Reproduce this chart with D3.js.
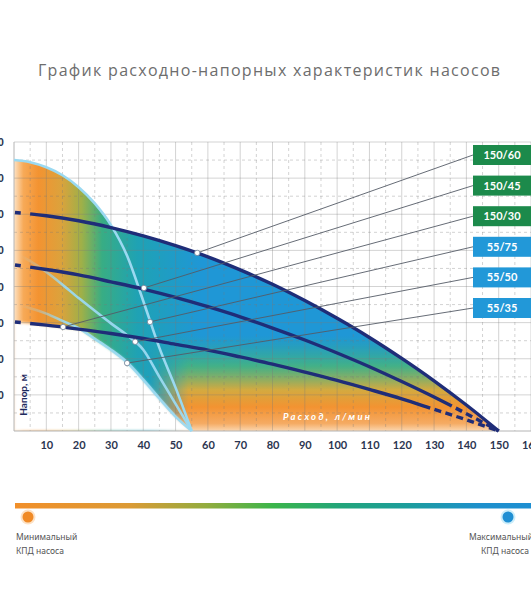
<!DOCTYPE html>
<html>
<head>
<meta charset="utf-8">
<script src="https://cdn.jsdelivr.net/npm/d3@7"></script>
<style>
  body { margin: 0; background: #fff; }
  svg { display: block; font-family: Lato, "Open Sans", sans-serif; }
</style>
</head>
<body>
<div class="canvas"></div>
<script>
// flow, l/min
const flow150 = [0, 10, 20, 30, 40, 50, 60, 70, 80, 90, 100, 110, 120, 130, 140, 150];
const flow55 = [0, 5, 10, 15, 20, 25, 30, 35, 40, 45, 50, 55];

// head, m
const head150_60 = [60.5, 59.6, 58.2, 56.3, 54.0, 51.3, 48.2, 44.6, 40.6, 36.1, 31.2, 25.9, 20.1, 13.9, 7.2, 0];
const head150_45 = [46.0, 44.7, 43.2, 41.3, 39.3, 37.0, 34.4, 31.6, 28.5, 25.2, 21.6, 17.8, 13.7, 9.4, 4.8, 0];
const head150_30 = [30.2, 29.3, 28.2, 27.0, 25.6, 24.0, 22.4, 20.5, 18.5, 16.3, 14.0, 11.5, 8.9, 6.0, 3.1, 0];
const head55_75 = [75, 74.4, 73, 70.8, 67.5, 63, 57, 48.5, 36, 23, 12, 0];
const head55_50 = [49.5, 47, 44, 40.5, 36.8, 33.3, 29.8, 26.5, 22.5, 15, 7.5, 0];
const head55_35 = [35, 34, 32.5, 30.5, 28.5, 25.5, 22.5, 19, 14.2, 9, 4, 0];

// pump labels and where their leader lines touch the curves
const pumpLabels = ["150/60", "150/45", "150/30", "55/75", "55/50", "55/35"];
const dotFlow = [56.7, 40.2, 15.2, 42.1, 37.5, 35];
const dotHead = [49.3, 39.6, 28.8, 30.2, 24.7, 18.8];

const xTicks = [10, 20, 30, 40, 50, 60, 70, 80, 90, 100, 110, 120, 130, 140, 150, 160];
const yTicks = [10, 20, 30, 40, 50, 60, 70, 80];

const w = 531;
const h = 600;

const svg = d3.select(".canvas").append("svg").attr("width", w).attr("height", h);
const defs = svg.append("defs");

const x = d3.scaleLinear().domain([0, 160]).range([14, 531]);
const y = d3.scaleLinear().domain([0, 80]).range([431, 142]);

// title
svg.append("text")
  .attr("x", 269).attr("y", 76)
  .attr("text-anchor", "middle")
  .attr("textLength", 462)
  .attr("lengthAdjust", "spacing")
  .style("font-family", "'Open Sans', sans-serif")
  .style("font-size", "16px")
  .style("fill", "#6d6d6d")
  .text("График расходно-напорных характеристик насосов");

// gradients for the efficiency fill
const addStops = (grad, stops) => {
  stops.forEach(([o, c, op]) => {
    grad.append("stop").attr("offset", o).attr("stop-color", c).attr("stop-opacity", op === undefined ? 1 : op);
  });
};

const gradX = defs.append("linearGradient").attr("id", "effX")
  .attr("gradientUnits", "userSpaceOnUse")
  .attr("x1", x(0)).attr("x2", x(58)).attr("y1", 0).attr("y2", 0);
addStops(gradX, [
  [0, "#fde2c4"], [0.05, "#f7aa58"], [0.13, "#f39331"], [0.25, "#dca23c"],
  [0.36, "#9fb048"], [0.47, "#38ad84"], [0.66, "#1fa2b4"], [1, "#1f97d6"]
]);

const gradY = defs.append("linearGradient").attr("id", "effY")
  .attr("gradientUnits", "userSpaceOnUse")
  .attr("x1", 0).attr("x2", 0).attr("y1", y(30)).attr("y2", y(0));
addStops(gradY, [
  [0, "#3cb58a", 0], [0.12, "#34ae8e", 0], [0.4, "#49b57a", 0.85], [0.62, "#d3aa40", 1],
  [0.78, "#f39331", 1], [0.93, "#f5ab63", 1], [1, "#fbd7b0", 1]
]);

const gradMask = defs.append("linearGradient").attr("id", "maskGrad")
  .attr("gradientUnits", "userSpaceOnUse")
  .attr("x1", x(42)).attr("x2", x(54)).attr("y1", 0).attr("y2", 0);
addStops(gradMask, [[0, "#000"], [1, "#fff"]]);

defs.append("mask").attr("id", "rightMask")
  .append("rect").attr("x", 0).attr("y", 0).attr("width", w).attr("height", h)
  .attr("fill", "url(#maskGrad)");

defs.append("filter").attr("id", "soft")
  .attr("x", "-10%").attr("y", "-10%").attr("width", "120%").attr("height", "120%")
  .append("feGaussianBlur").attr("stdDeviation", 1.6);

// light curves fade in from the left edge
const gradLine = defs.append("linearGradient").attr("id", "lightFade")
  .attr("gradientUnits", "userSpaceOnUse")
  .attr("x1", x(2)).attr("x2", x(16)).attr("y1", 0).attr("y2", 0);
addStops(gradLine, [[0, "#9ad9f1", 0], [1, "#9ad9f1", 0.95]]);

const areaUnder = (qs, hs) => d3.area()
  .x((d, i) => x(qs[i]))
  .y0(y(0))
  .y1((d) => y(d))
  .curve(d3.curveMonotoneX)(hs);

const line = d3.line()
  .x((d) => x(d[0]))
  .y((d) => y(d[1]))
  .curve(d3.curveMonotoneX);

// colored region: union of areas under the top curves
const fill = svg.append("g");
[[flow55, head55_75], [flow150, head150_60]].forEach(([qs, hs]) => {
  fill.append("path").attr("d", areaUnder(qs, hs)).attr("fill", "url(#effX)");
});
const over = fill.append("g").attr("mask", "url(#rightMask)");
[[flow55, head55_75], [flow150, head150_60]].forEach(([qs, hs]) => {
  over.append("path").attr("d", areaUnder(qs, hs)).attr("fill", "url(#effY)");
});

// white region below both lower curves
defs.append("clipPath").attr("id", "under30")
  .append("path").attr("d", areaUnder(flow150, head150_30));
svg.append("g").attr("filter", "url(#soft)")
  .append("path")
  .attr("d", areaUnder(flow55, head55_35))
  .attr("clip-path", "url(#under30)")
  .attr("fill", "#fff");

// grid
const grid = svg.append("g");
grid.selectAll("line.v").data(d3.range(5, 161, 5)).join("line")
  .attr("class", "v")
  .attr("x1", (d) => x(d)).attr("x2", (d) => x(d))
  .attr("y1", y(80)).attr("y2", y(0))
  .attr("stroke", "rgba(120,120,120,0.33)")
  .attr("stroke-dasharray", (d) => (d % 10 === 0 ? null : "3,3"));
grid.selectAll("line.h").data(d3.range(5, 81, 5)).join("line")
  .attr("class", "h")
  .attr("x1", x(0)).attr("x2", w)
  .attr("y1", (d) => y(d)).attr("y2", (d) => y(d))
  .attr("stroke", "rgba(120,120,120,0.33)")
  .attr("stroke-dasharray", (d) => (d % 10 === 0 ? null : "3,3"));

svg.append("line").attr("x1", x(0)).attr("x2", x(0)).attr("y1", y(80)).attr("y2", y(0))
  .attr("stroke", "#b4b4b4");
svg.append("line").attr("x1", x(0)).attr("x2", w).attr("y1", y(0)).attr("y2", y(0))
  .attr("stroke", "#b4b4b4");

// axes labels
const xAxis = svg.append("g")
  .attr("transform", `translate(0, ${y(0)})`)
  .call(d3.axisBottom(x).tickValues(xTicks).tickSize(0).tickPadding(10));
xAxis.select(".domain").remove();
xAxis.selectAll("text")
  .style("font-size", "11px").style("font-weight", "700").style("fill", "#2b3550")
  .style("font-family", "Lato, sans-serif");

const yAxis = svg.append("g")
  .attr("transform", "translate(4, 0)")
  .call(d3.axisLeft(y).tickValues(yTicks).tickSize(0).tickPadding(0));
yAxis.select(".domain").remove();
yAxis.selectAll("text")
  .style("font-size", "11px").style("font-weight", "700").style("fill", "#2b3550");

svg.append("text")
  .attr("transform", `translate(27, ${y(10)}) rotate(-90)`)
  .attr("text-anchor", "middle")
  .style("font-size", "10px").style("font-weight", "700").style("fill", "#1e2a5e")
  .text("Напор, м");

svg.append("text")
  .attr("x", 283).attr("y", 420)
  .attr("textLength", 87)
  .style("font-size", "9.5px").style("font-weight", "700").style("font-style", "italic")
  .style("fill", "#fff")
  .text("Расход, л/мин");

// 55 l/min pumps: light curves
[head55_75, head55_50, head55_35].forEach((hs, i) => {
  svg.append("path")
    .attr("d", line(d3.zip(flow55, hs)))
    .attr("fill", "none")
    .attr("stroke", i === 0 ? "#9ad9f1" : "url(#lightFade)")
    .attr("stroke-width", 2.6);
});

// find path length at a given x
const lengthAtX = (node, px) => {
  let lo = 0;
  let hi = node.getTotalLength();
  for (let i = 0; i < 30; i++) {
    const mid = (lo + hi) / 2;
    if (node.getPointAtLength(mid).x < px) lo = mid;
    else hi = mid;
  }
  return lo;
};

// solid pieces + dashed tail -> stroke-dasharray
const dashFor = (node, solids, tailFrom) => {
  const total = node.getTotalLength();
  const parts = solids.map(([a, b]) => [lengthAtX(node, x(a)), lengthAtX(node, x(b))]);
  if (tailFrom !== null) {
    let p = lengthAtX(node, x(tailFrom)) + 4.5;
    while (p < total) {
      parts.push([p, Math.min(p + 7, total)]);
      p += 11.5;
    }
  }
  const arr = [0];
  let pos = 0;
  parts.forEach(([a, b]) => {
    arr.push(a - pos, b - a);
    pos = b;
  });
  arr.push(total - pos + 20);
  return arr.join(",");
};

// 150 l/min pumps: navy curves
const navy = [
  [head150_60, 150, null],
  [head150_45, 135.5, 135.5],
  [head150_30, 128.8, 128.8]
];
navy.forEach(([hs, solidEnd, tail]) => {
  const p = svg.append("path")
    .attr("d", line(d3.zip(flow150, hs)))
    .attr("fill", "none")
    .attr("stroke", "#1f2d78")
    .attr("stroke-width", 3.4);
  p.attr("stroke-dasharray", dashFor(p.node(), [[0.3, 2.1], [5, solidEnd]], tail));
});

// label boxes + leader lines
const labelY = d3.scalePoint().domain(pumpLabels).range([155, 308]);

svg.selectAll("line.leader").data(pumpLabels).join("line")
  .attr("class", "leader")
  .attr("x1", 473).attr("y1", (d) => labelY(d))
  .attr("x2", (d, i) => x(dotFlow[i])).attr("y2", (d, i) => y(dotHead[i]))
  .attr("stroke", "#555b66").attr("stroke-width", 0.9);

svg.selectAll("circle.dot").data(pumpLabels).join("circle")
  .attr("class", "dot")
  .attr("cx", (d, i) => x(dotFlow[i])).attr("cy", (d, i) => y(dotHead[i]))
  .attr("r", 2.7)
  .attr("fill", "#fff").attr("stroke", "#6b7d94").attr("stroke-width", 0.8);

const boxes = svg.selectAll("g.lbl").data(pumpLabels).join("g")
  .attr("class", "lbl")
  .attr("transform", (d) => `translate(473, ${labelY(d)})`);
boxes.append("rect")
  .attr("x", 0).attr("y", -10).attr("width", 70).attr("height", 20)
  .attr("fill", (d) => (d.startsWith("150") ? "#1c8a4b" : "#2298d8"));
boxes.append("text")
  .attr("x", 29).attr("y", 4)
  .attr("text-anchor", "middle")
  .style("font-size", "11px").style("font-weight", "700").style("fill", "#fff")
  .text((d) => d);

// efficiency legend
const legGrad = defs.append("linearGradient").attr("id", "legGrad")
  .attr("gradientUnits", "userSpaceOnUse")
  .attr("x1", 15).attr("x2", 531).attr("y1", 0).attr("y2", 0);
addStops(legGrad, [
  [0, "#f18f2a"], [0.22, "#dc9a35"], [0.37, "#93ac3e"], [0.5, "#3bb54a"],
  [0.63, "#22a57a"], [0.76, "#1c9d9c"], [0.9, "#1e90cc"], [1, "#1e8fd2"]
]);
svg.append("rect").attr("x", 15).attr("y", 503).attr("width", 520).attr("height", 5.5)
  .attr("fill", "url(#legGrad)");

[[28, "#f08a26", "#fde2c6"], [508, "#1f8fd3", "#cdeefa"]].forEach(([cx, c, ring]) => {
  svg.append("circle").attr("cx", cx).attr("cy", 517).attr("r", 7.5).attr("fill", ring);
  svg.append("circle").attr("cx", cx).attr("cy", 517).attr("r", 5.5).attr("fill", c);
});

const legText = (txt, tx, ty, anchor) => svg.append("text")
  .attr("x", tx).attr("y", ty).attr("text-anchor", anchor)
  .style("font-family", "'Noto Sans', sans-serif")
  .style("font-size", "8.5px").style("fill", "#555")
  .text(txt);
legText("Минимальный", 16, 540, "start");
legText("КПД насоса", 16, 554, "start");
legText("Максимальный", 533, 540, "end");
legText("КПД насоса", 529, 554, "end");
</script>
</body>
</html>
